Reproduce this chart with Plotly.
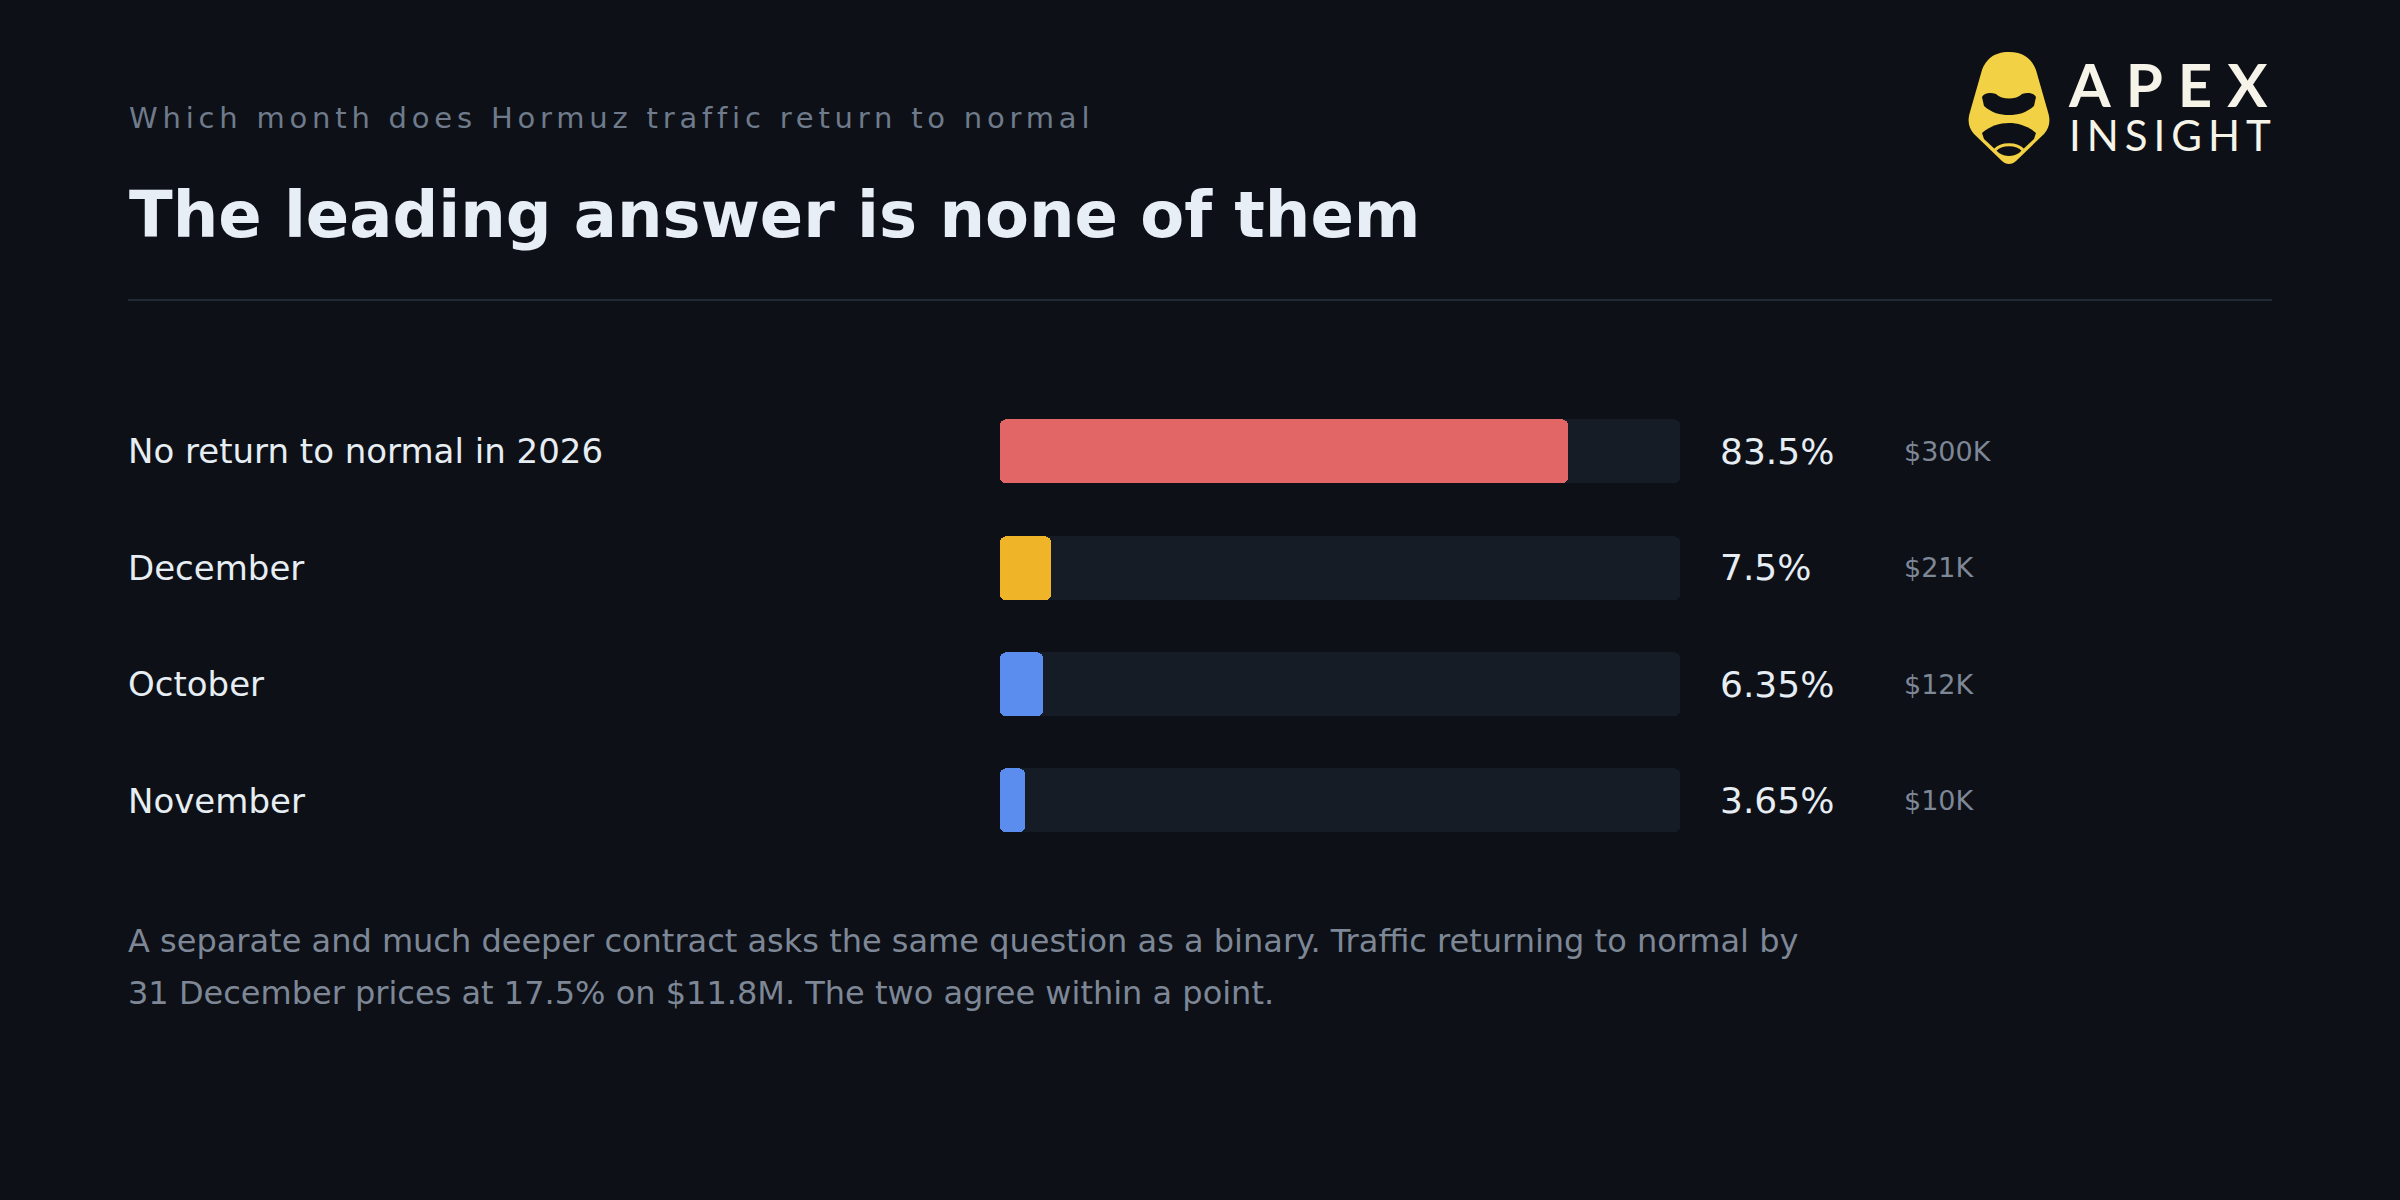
import plotly.graph_objects as go

# ---- data ----
outcomes = ["No return to normal in 2026", "December", "October", "November"]
probabilities = [83.5, 7.5, 6.35, 3.65]
volumes_k = [300, 21, 12, 10]
bar_colors = ["#e36666", "#f0b429", "#5b8def", "#5b8def"]
track_max = [100, 100, 100, 100]

subtitle = "Which month does Hormuz traffic return to normal"
title = "The leading answer is none of them"
note_lines = [
    "A separate and much deeper contract asks the same question as a binary. Traffic returning to normal by",
    "31 December prices at 17.5% on $11.8M. The two agree within a point.",
]

W, H = 2400, 1200
BG = "#0d1017"
TRACK = "#161c25"
TEXT = "#e6edf3"
MUTED = "#7d8796"
LOGO_Y = "#f3d144"


def px(x):
    return x / W


def py(y):
    return 1 - y / H


fig = go.Figure()


def rounded_bar(values, color):
    # plotly rounds only the far end of a bar, so draw each bar forwards
    # (from 0) and backwards (from its value) to round both ends
    common = dict(y=outcomes, orientation="h", width=0.55,
                  hoverinfo="skip", showlegend=False)
    fig.add_trace(go.Bar(
        x=values, base=[0] * len(values),
        marker=dict(color=color, cornerradius=6, line=dict(width=0)), **common))
    fig.add_trace(go.Bar(
        x=[-v for v in values], base=values,
        marker=dict(color=color, cornerradius=6, line=dict(width=0)), **common))


rounded_bar(track_max, TRACK)
rounded_bar(probabilities, bar_colors)

annotations = []
for name, p, v in zip(outcomes, probabilities, volumes_k):
    annotations.append(dict(
        text=name, x=px(126), xref="paper", y=name, yref="y",
        xanchor="left", yanchor="middle", showarrow=False,
        font=dict(family="DejaVu Sans", size=34, color=TEXT),
    ))
    annotations.append(dict(
        text=f"{p:g}%", x=px(1718), xref="paper", y=name, yref="y",
        xanchor="left", yanchor="middle", showarrow=False,
        font=dict(family="DejaVu Sans", size=36, color=TEXT),
    ))
    annotations.append(dict(
        text=f"${v}K", x=px(1902), xref="paper", y=name, yref="y",
        xanchor="left", yanchor="middle", showarrow=False,
        font=dict(family="DejaVu Sans", size=27, color=MUTED),
    ))

# subtitle (letter spaced)
annotations.append(dict(
    text=f'<span style="letter-spacing:4.8px">{subtitle}</span>',
    x=px(127), xref="paper", y=py(118), yref="paper",
    xanchor="left", yanchor="middle", showarrow=False,
    font=dict(family="DejaVu Sans", size=29, color="#6f7b8b"),
))
# title
annotations.append(dict(
    text=f"<b>{title}</b>", x=px(127), xref="paper", y=py(215), yref="paper",
    xanchor="left", yanchor="middle", showarrow=False,
    font=dict(family="DejaVu Sans", size=64, color="#e8eef6"),
))
# footnote
for i, line in enumerate(note_lines):
    annotations.append(dict(
        text=line, x=px(126), xref="paper", y=py(941 + 52 * i), yref="paper",
        xanchor="left", yanchor="middle", showarrow=False,
        font=dict(family="DejaVu Sans", size=32, color=MUTED),
    ))

# logo wordmark (one text block)
annotations.append(dict(
    text=('<b><span style="font-size:60px;letter-spacing:15px">APEX</span></b><br>'
          '<span style="font-size:42px;letter-spacing:6px">INSIGHT</span>'),
    x=px(2066), xref="paper", y=py(104), yref="paper",
    xanchor="left", yanchor="middle", align="left", showarrow=False,
    font=dict(family="Lato", size=34, color="#f6f4e8"),
))


def path(cmds):
    out = []
    for c in cmds:
        if isinstance(c, str):
            out.append(c)
        else:
            out.append(f"{px(c[0]):.5f},{py(c[1]):.5f}")
    return " ".join(out)


icon = path([
    "M", (2009, 52),
    "C", (2025, 52), (2032, 60), (2036, 70),
    "L", (2048, 112),
    "C", (2051, 122), (2049, 128), (2044, 134),
    "L", (2016, 161),
    "C", (2012, 165), (2006, 165), (2002, 161),
    "L", (1974, 134),
    "C", (1969, 128), (1967, 122), (1970, 112),
    "L", (1982, 70),
    "C", (1986, 60), (1993, 52), (2009, 52), "Z",
])
cut1 = path([
    "M", (1982, 97),
    "C", (1984, 93), (1990, 92), (1996, 94),
    "C", (2002, 100), (2016, 100), (2022, 94),
    "C", (2028, 92), (2034, 93), (2036, 97),
    "L", (2034, 106),
    "C", (2026, 113), (2018, 115), (2009, 115),
    "C", (2000, 115), (1992, 113), (1984, 106), "Z",
])
cut2 = path([
    "M", (1982, 133),
    "C", (1990, 126), (2000, 123), (2009, 123),
    "C", (2018, 123), (2028, 126), (2036, 133),
    "L", (2034, 139),
    "L", (2019, 153),
    "C", (2013, 157), (2005, 157), (1999, 153),
    "L", (1984, 139), "Z",
])
arc = path([
    "M", (1995, 150),
    "C", (2001, 143), (2017, 143), (2023, 150),
])

shapes = [
    dict(type="line", xref="paper", yref="paper",
         x0=px(128), x1=px(2272), y0=py(300), y1=py(300),
         line=dict(color="#222a35", width=2)),
    dict(type="path", xref="paper", yref="paper", path=icon,
         fillcolor=LOGO_Y, line=dict(width=0)),
    dict(type="path", xref="paper", yref="paper", path=cut1,
         fillcolor=BG, line=dict(width=0)),
    dict(type="path", xref="paper", yref="paper", path=cut2,
         fillcolor=BG, line=dict(width=0)),
    dict(type="path", xref="paper", yref="paper", path=arc,
         line=dict(color=LOGO_Y, width=3)),
]

row_top, row_bottom = 393.3, 858.7
fig.update_layout(
    width=W, height=H, autosize=False,
    paper_bgcolor=BG, plot_bgcolor=BG,
    margin=dict(l=0, r=0, t=0, b=0),
    barmode="overlay", bargap=0,
    xaxis=dict(domain=[px(1000), px(1680)], range=[0, 100], visible=False,
               fixedrange=True),
    yaxis=dict(domain=[py(row_bottom), py(row_top)], categoryorder="array",
               categoryarray=outcomes, autorange="reversed", visible=False,
               fixedrange=True),
    annotations=annotations,
    shapes=shapes,
    showlegend=False,
)

fig.write_html(
    "out.html",
    config={"displayModeBar": False},
    post_script="document.body.style.margin='0';document.body.style.background='#0d1017';",
)
